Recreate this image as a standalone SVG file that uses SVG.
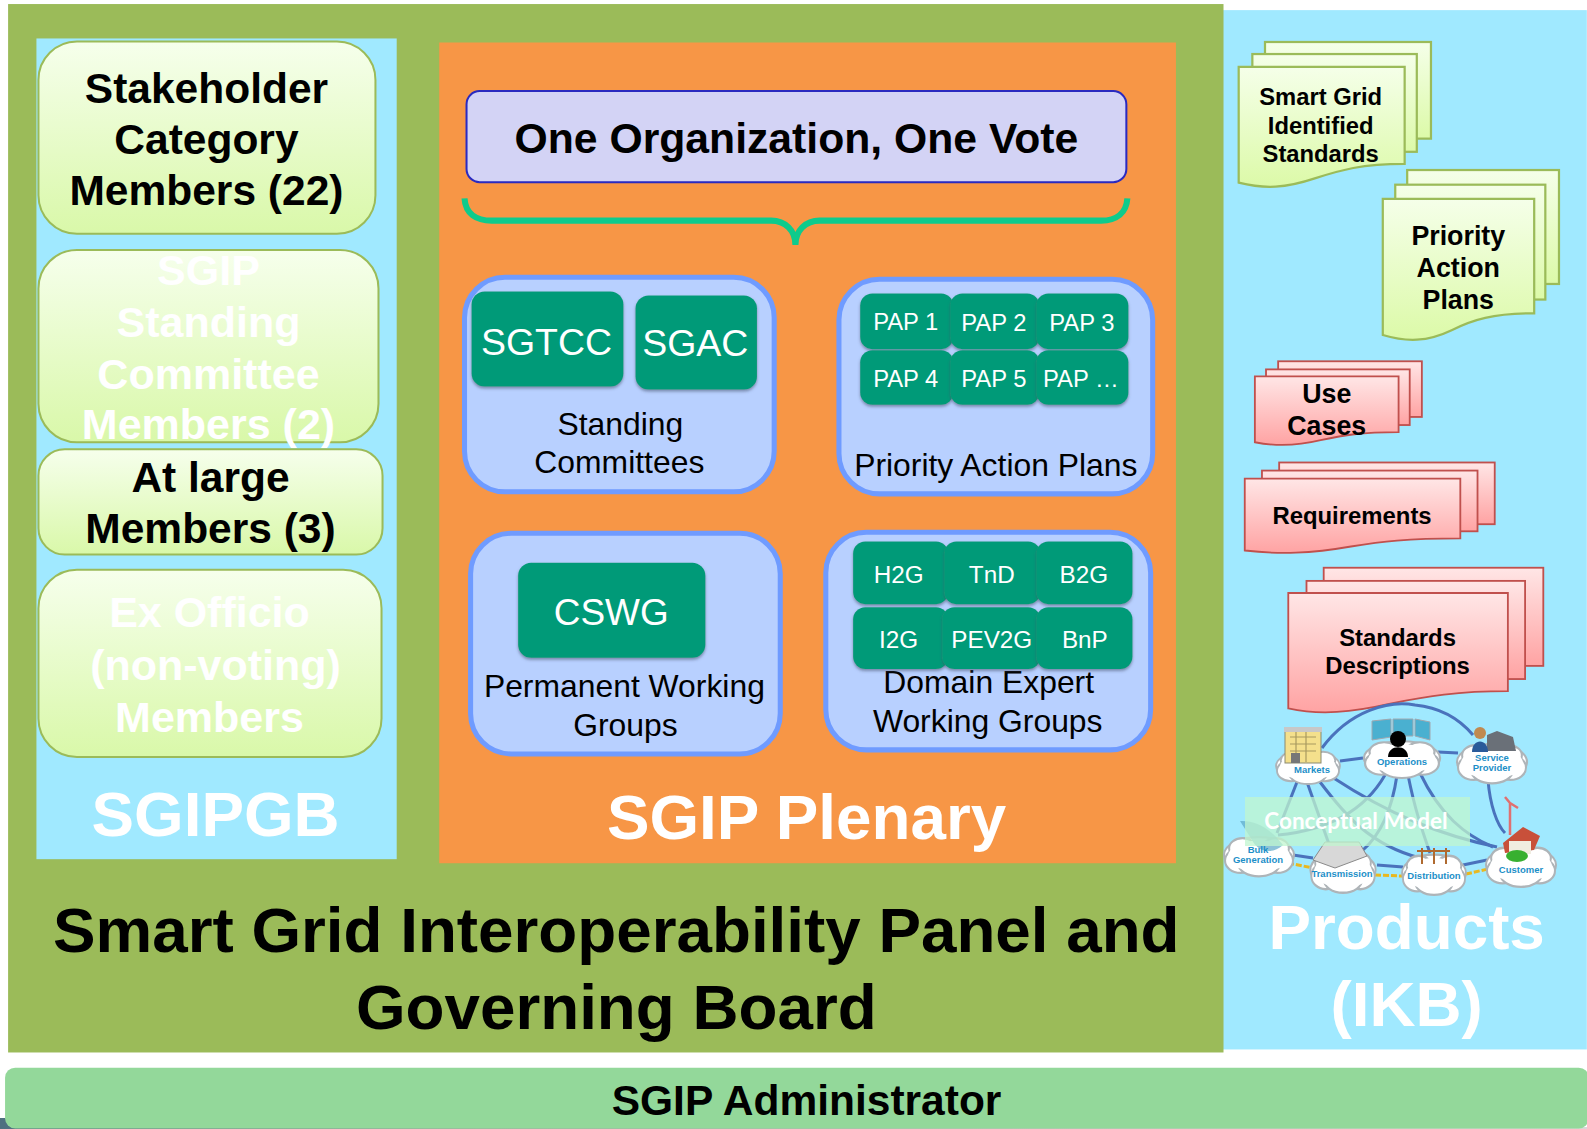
<svg xmlns="http://www.w3.org/2000/svg" width="1587" height="1129" viewBox="0 0 1587 1129">
<style>
text{font-family:"Liberation Sans",Arial,sans-serif;text-anchor:middle}
.b{font-weight:700}
.k{fill:#000}
.w{fill:#fff}
.member{fill:url(#gm);stroke:#9bbb59;stroke-width:2}
.wg{fill:#b8d0ff;stroke:#6f9bff;stroke-width:5}
.teal{fill:#069a78;filter:url(#sh)}
.gd{fill:url(#gg);stroke:#9bbb59;stroke-width:2.2}
.rd{fill:url(#gr);stroke:#c0504d;stroke-width:1.8}
.ln{fill:none;stroke:#4a72bc;stroke-width:3}
.dl{fill:none;stroke:#e8b820;stroke-width:3;stroke-dasharray:6 2}
.cl{font-size:9.500px;font-weight:700;fill:#1c8fc8}
</style>
<defs>
<linearGradient id="gm" x1="0" y1="0" x2="0" y2="1"><stop offset="0" stop-color="#f6ffec"/><stop offset="1" stop-color="#d9f8a9"/></linearGradient>
<linearGradient id="gg" x1="0" y1="0" x2="0" y2="1"><stop offset="0" stop-color="#f5ffe9"/><stop offset="1" stop-color="#dcfaa8"/></linearGradient>
<linearGradient id="gr" x1="0" y1="0" x2="0" y2="1"><stop offset="0" stop-color="#ffe6e6"/><stop offset="1" stop-color="#ffa3a3"/></linearGradient>
<linearGradient id="gs" x1="0" y1="0" x2="1" y2="0"><stop offset="0" stop-color="#4f7080"/><stop offset="0.3" stop-color="#a0a8a4"/><stop offset="1" stop-color="#d8d8d8"/></linearGradient>
<filter id="sh" x="-10%" y="-10%" width="120%" height="125%"><feDropShadow dx="0" dy="2" stdDeviation="1.6" flood-color="#44506a" flood-opacity=".55"/></filter>
<g id="cloud"><g fill="#fff" stroke="#aeb4b8" stroke-width="2"><ellipse cx="0" cy="0" rx="34" ry="16"/><ellipse cx="-18" cy="5" rx="15" ry="11"/><ellipse cx="18" cy="5" rx="15" ry="11"/><ellipse cx="0" cy="8" rx="20" ry="11"/><ellipse cx="-16" cy="-6" rx="13" ry="9"/><ellipse cx="16" cy="-6" rx="13" ry="9"/></g><ellipse cx="0" cy="1" rx="30" ry="14" fill="#fff"/></g>
</defs>

<rect id="page" width="1587" height="1129" fill="#fff"/>
<rect x="0" y="1118" width="10" height="11" fill="#4f7080"/>
<rect x="0" y="1127" width="1587" height="2" fill="url(#gs)"/>

<g transform="scale(1.012)">
<g id="products-panel"><rect x="1208" y="10" width="360" height="1027" fill="#a0e9ff"/></g>
<g id="sgip-panel"><rect x="8" y="4" width="1201" height="1036" fill="#9bbb59"/>
<text class="b k" x="609" y="941" font-size="63">Smart Grid Interoperability Panel and</text>
<text class="b k" x="609" y="1017" font-size="63">Governing Board</text></g>
<g id="sgipgb-panel"><rect x="36" y="38" width="356" height="811" fill="#a0e9ff"/>
<text class="b w" x="213" y="826" font-size="63">SGIPGB</text></g>
<g id="plenary-panel"><rect x="434" y="42" width="728" height="811" fill="#f79646"/>
<text class="b w" x="797" y="829" font-size="63">SGIP Plenary</text></g>

<g id="stakeholder"><rect class="member" x="38" y="41" width="333" height="190" rx="38"/>
<text class="b k" font-size="42"><tspan x="204" y="102">Stakeholder</tspan><tspan x="204" y="152">Category</tspan><tspan x="204" y="203">Members (22)</tspan></text></g>
<g id="standing-members"><rect class="member" x="38" y="247" width="336" height="190" rx="38"/>
<text class="b w" font-size="42.500"><tspan x="206" y="282">SGIP</tspan><tspan x="206" y="333">Standing</tspan><tspan x="206" y="384">Committee</tspan><tspan x="206" y="434">Members (2)</tspan></text></g>
<g id="at-large"><rect class="member" x="38" y="444" width="340" height="104" rx="26"/>
<text class="b k" font-size="42"><tspan x="208" y="486">At large</tspan><tspan x="208" y="537">Members (3)</tspan></text></g>
<g id="ex-officio"><rect class="member" x="38" y="563" width="339" height="185" rx="38"/>
<text class="b w" font-size="42.500"><tspan x="207" y="620">Ex Officio</tspan><tspan x="213" y="672">(non-voting)</tspan><tspan x="207" y="723">Members</tspan></text></g>

<g id="one-vote"><rect x="461" y="90" width="652" height="90" rx="13" fill="#d3d3f5" stroke="#2a2ac0" stroke-width="2"/>
<text class="b k" x="787" y="151" font-size="42.200">One Organization, One Vote</text></g>
<g id="brace"><path d="M459 196C460 211 470 218 486 218H762C776 218 786 228 786 242C786 228 796 218 810 218H1088C1104 218 1113 210 1114 196" fill="none" stroke="#0ecb8c" stroke-width="6"/></g>

<g id="standing-committees"><rect class="wg" x="459" y="274" width="306" height="212" rx="40"/>
<text class="k" font-size="31.500"><tspan x="613" y="430">Standing</tspan><tspan x="612" y="467">Committees</tspan></text></g>
<g id="sgtcc"><rect class="teal" x="466" y="288" width="150" height="94" rx="13"/><text class="w" x="540" y="351" font-size="37">SGTCC</text></g>
<g id="sgac"><rect class="teal" x="628" y="292" width="120" height="93" rx="13"/><text class="w" x="687" y="352" font-size="37">SGAC</text></g>

<g id="priority-action-plans"><rect class="wg" x="829" y="276" width="310" height="212" rx="40"/>
<text class="k" x="984" y="470" font-size="31.500">Priority Action Plans</text></g>
<g id="pap1"><rect class="teal" x="850" y="290" width="92" height="55" rx="12"/><text class="w" x="895" y="326" font-size="23.500">PAP 1</text></g>
<g id="pap2"><rect class="teal" x="939" y="290" width="88" height="55" rx="12"/><text class="w" x="982" y="327" font-size="23.500">PAP 2</text></g>
<g id="pap3"><rect class="teal" x="1024" y="290" width="91" height="55" rx="12"/><text class="w" x="1069" y="327" font-size="23.500">PAP 3</text></g>
<g id="pap4"><rect class="teal" x="850" y="346" width="92" height="54" rx="12"/><text class="w" x="895" y="382" font-size="23.500">PAP 4</text></g>
<g id="pap5"><rect class="teal" x="939" y="346" width="88" height="54" rx="12"/><text class="w" x="982" y="382" font-size="23.500">PAP 5</text></g>
<g id="pap6"><rect class="teal" x="1024" y="346" width="91" height="54" rx="12"/><text class="w" x="1068" y="382" font-size="23.500">PAP …</text></g>

<g id="permanent-wg"><rect class="wg" x="465" y="527" width="306" height="218" rx="40"/>
<text class="k" font-size="31.500"><tspan x="617" y="689">Permanent Working</tspan><tspan x="618" y="727">Groups</tspan></text></g>
<g id="cswg"><rect class="teal" x="512" y="556" width="185" height="94" rx="13"/><text class="w" x="604" y="618" font-size="36.500">CSWG</text></g>

<g id="domain-wg"><rect class="wg" x="816" y="526" width="321" height="215" rx="40"/>
<text class="k" font-size="31.500"><tspan x="977" y="685">Domain Expert</tspan><tspan x="976" y="723">Working Groups</tspan></text></g>
<g id="h2g"><rect class="teal" x="843" y="535" width="94" height="62" rx="12"/><text class="w" x="888" y="576" font-size="24">H2G</text></g>
<g id="tnd"><rect class="teal" x="933" y="535" width="95" height="62" rx="12"/><text class="w" x="980" y="576" font-size="24">TnD</text></g>
<g id="b2g"><rect class="teal" x="1024" y="535" width="95" height="62" rx="12"/><text class="w" x="1071" y="576" font-size="24">B2G</text></g>
<g id="i2g"><rect class="teal" x="843" y="600" width="94" height="61" rx="12"/><text class="w" x="888" y="640" font-size="24">I2G</text></g>
<g id="pev2g"><rect class="teal" x="931" y="600" width="97" height="61" rx="12"/><text class="w" x="980" y="640" font-size="24">PEV2G</text></g>
<g id="bnp"><rect class="teal" x="1024" y="600" width="95" height="61" rx="12"/><text class="w" x="1072" y="640" font-size="24">BnP</text></g>

<g id="doc-standards">
<rect class="gd" x="1250" y="41.500" width="164" height="95.500"/><rect class="gd" x="1237.500" y="53.400" width="162.500" height="96.600"/>
<path class="gd" d="M1224 66H1388V162C1345 162 1325 168 1300 176C1270 186 1250 187 1224 180.500Z"/>
<text class="b k" font-size="23.500"><tspan x="1305" y="104">Smart Grid</tspan><tspan x="1305" y="132">Identified</tspan><tspan x="1305" y="160">Standards</tspan></text></g>
<g id="doc-pap">
<rect class="gd" x="1390.500" y="168" width="150" height="112.600"/><rect class="gd" x="1378.700" y="182.500" width="148.300" height="113.500"/>
<path class="gd" d="M1366.400 196.600H1516V309.600C1475 309.600 1455 316 1435 326C1410 338 1390 338 1366.400 331Z"/>
<text class="b k" font-size="26.500"><tspan x="1441" y="242">Priority</tspan><tspan x="1441" y="274">Action</tspan><tspan x="1441" y="305">Plans</tspan></text></g>
<g id="doc-use-cases">
<rect class="rd" x="1263" y="357" width="142" height="55"/><rect class="rd" x="1251" y="365" width="142" height="55"/>
<path class="rd" d="M1240 372H1382V427C1345 427 1328 430 1305 435C1280 441 1260 441 1240 437Z"/>
<text class="b k" font-size="26.500"><tspan x="1311" y="398">Use</tspan><tspan x="1311" y="430">Cases</tspan></text></g>
<g id="doc-requirements">
<rect class="rd" x="1264" y="457" width="213" height="61"/><rect class="rd" x="1247" y="465" width="213" height="60"/>
<path class="rd" d="M1230 473H1443V532C1390 532 1365 535 1335 540C1295 547 1265 548 1230 544Z"/>
<text class="b k" x="1336" y="518" font-size="23.600">Requirements</text></g>
<g id="doc-descriptions">
<rect class="rd" x="1308" y="561" width="217" height="97"/><rect class="rd" x="1291" y="574" width="216" height="97"/>
<path class="rd" d="M1273 586H1490V683C1440 683 1410 688 1375 695C1335 704 1305 707 1273 700Z"/>
<text class="b k" font-size="23.600"><tspan x="1381" y="638">Standards</tspan><tspan x="1381" y="666">Descriptions</tspan></text></g>

<g id="products-title"><text class="b w" font-size="63"><tspan x="1390" y="938">Products</tspan><tspan x="1390" y="1014">(IKB)</tspan></text></g>
<g id="administrator"><rect x="5" y="1055" width="1565" height="60" rx="10" fill="#93d89a"/>
<text class="b k" x="797" y="1102" font-size="42">SGIP Administrator</text></g>
</g>

<g id="conceptual-model">
<g id="connectors">
<path class="ln" d="M1322 748C1350 710 1390 700 1415 705C1445 708 1462 722 1473 735"/>
<path class="ln" d="M1297 782L1277 833"/>
<path class="ln" d="M1307 782L1330 847"/>
<path class="ln" d="M1320 782C1345 815 1370 845 1420 858"/>
<path class="ln" d="M1332 777C1390 815 1440 835 1497 847"/>
<path class="ln" d="M1385 775C1365 810 1330 830 1278 835"/>
<path class="ln" d="M1397 775C1392 810 1380 835 1363 850"/>
<path class="ln" d="M1408 775C1415 810 1422 830 1430 853"/>
<path class="ln" d="M1420 773C1440 815 1465 835 1493 847"/>
<path class="ln" d="M1488 780C1490 805 1497 825 1505 833"/>
<path class="ln" d="M1340 761L1363 758"/>
<path class="ln" d="M1438 752L1458 753"/>
<path class="ln" d="M1293 855L1313 858"/>
<path class="ln" d="M1377 865L1403 867"/>
<path class="ln" d="M1463 865L1487 860"/>
<path class="dl" d="M1288 863L1313 868"/>
<path class="dl" d="M1375 875L1402 876"/>
<path class="dl" d="M1466 874L1488 869"/>
</g>
<g id="markets"><use href="#cloud" transform="translate(1308,766) scale(.94,.95)"/>
<rect x="1285" y="730" width="36" height="33" fill="#f4e08c" stroke="#8a8a70"/><rect x="1284" y="727" width="38" height="5" fill="#c8c8c8"/><path d="M1290 737h26M1290 744h26M1290 751h26M1296 732v30M1306 732v30" stroke="#a89a60" stroke-width="1.200"/><rect x="1291" y="753" width="9" height="10" fill="#777"/>
<text class="cl" x="1312" y="773">Markets</text></g>
<g id="operations"><use href="#cloud" transform="translate(1402,758) scale(1.120,1.050)"/>
<path d="M1372 721l19-2v18l-19 3zM1393 719h20v17h-20zM1415 719l15 3v18l-15-4z" fill="#4ab0d0" stroke="#a0a8b0"/>
<ellipse cx="1398" cy="739" rx="8" ry="8" fill="#000"/><path d="M1388 757C1388 744 1408 744 1408 757Z" fill="#000"/>
<text class="cl" x="1402" y="765">Operations</text></g>
<g id="service-provider"><use href="#cloud" transform="translate(1492,762) scale(1.030,1.120)"/>
<path d="M1487 735l10-4 16 6 3 14h-29z" fill="#6a7078"/><circle cx="1480" cy="733" r="6" fill="#c08a50"/><path d="M1472 752C1472 738 1488 738 1488 752Z" fill="#2a5a9a"/>
<text class="cl" x="1492" y="761">Service</text><text class="cl" x="1492" y="771">Provider</text></g>
<g id="bulk-generation"><use href="#cloud" transform="translate(1259,855) scale(1.030,1.120)"/>
<path d="M1240 821C1255 820 1270 828 1283 845C1272 855 1258 852 1252 840Z" fill="#5da8c8" fill-opacity=".7"/>
<text class="cl" x="1258" y="853">Bulk</text><text class="cl" x="1258" y="863">Generation</text></g>
<g id="transmission"><use href="#cloud" transform="translate(1343,870) scale(.96,1.200)"/>
<path d="M1313 860l12-18h34l8 14-32 12z" fill="#d8d8d8" stroke="#8a8a8a"/>
<text class="cl" x="1342" y="877">Transmission</text></g>
<g id="distribution"><use href="#cloud" transform="translate(1434,873) scale(.94,1.150)"/>
<path d="M1422 848v16M1434 848v16M1446 848v16M1417 851h33" stroke="#b06a30" stroke-width="2" fill="none"/>
<text class="cl" x="1434" y="879">Distribution</text></g>
<g id="customer"><use href="#cloud" transform="translate(1521,865) scale(1.030,1.150)"/>
<path d="M1503 843l20-16 17 9-6 14-29 3z" fill="#c8503a"/><rect x="1509" y="841" width="22" height="13" fill="#f0ece0"/><ellipse cx="1517" cy="856" rx="11" ry="6" fill="#38b030"/><path d="M1510 835V803M1510 803l-5-6M1510 803l8 5" stroke="#e07070" stroke-width="2.500" fill="none"/>
<text class="cl" x="1521" y="873">Customer</text></g>
<g id="model-overlay"><rect x="1245" y="797" width="225" height="49" fill="#c0f5cf" fill-opacity=".75"/></g>
<text x="1356" y="829" font-size="22.500" font-weight="700" fill="#fff" style="font-family:Lato,'Liberation Sans',sans-serif">Conceptual Model</text>
</g>
</svg>
